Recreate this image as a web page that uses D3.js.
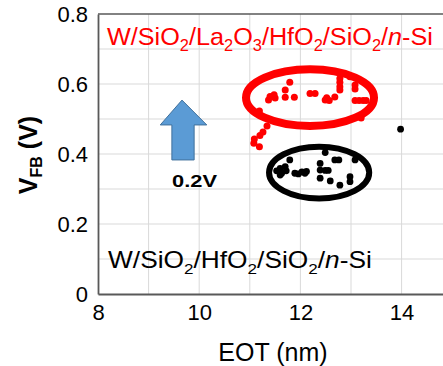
<!DOCTYPE html>
<html><head><meta charset="utf-8">
<script src="https://cdn.jsdelivr.net/npm/d3@7"></script>
<style>html,body{margin:0;padding:0;background:#fff}svg{display:block;font-family:Arial,"Liberation Sans",sans-serif}</style>
</head><body><svg id="c" width="443" height="366"></svg>
<script>
const xTicks = [8, 10, 12, 14];
const yTicks = [0, 0.2, 0.4, 0.6, 0.8];
const yTickLabels = ["0", "0.2", "0.4", "0.6", "0.8"];
const redEOT = [11.19,11.34,11.26,11.20,11.09,11.08,11.19,11.37,11.40,11.48,11.50,11.70,11.79,11.70,11.88,12.19,12.29,12.49,12.52,12.57,12.68,12.78,12.78,12.78,12.78,12.98,13.08,13.08,13.08,13.16,13.24,13.30,13.20];
const redVFB = [0.523,0.480,0.463,0.453,0.443,0.431,0.421,0.554,0.564,0.569,0.560,0.583,0.605,0.562,0.562,0.573,0.573,0.554,0.561,0.553,0.563,0.616,0.605,0.592,0.583,0.621,0.597,0.586,0.553,0.553,0.553,0.553,0.503];
const blackEOT = [11.53,11.60,11.63,11.60,11.70,11.72,11.79,11.89,11.96,12.03,12.09,12.12,12.39,12.39,12.39,12.49,12.49,12.55,12.59,12.68,12.76,12.78,12.98,12.98,13.08,13.98];
const blackVFB = [0.352,0.359,0.345,0.340,0.364,0.352,0.383,0.345,0.343,0.349,0.345,0.350,0.373,0.354,0.331,0.404,0.353,0.353,0.323,0.383,0.383,0.311,0.335,0.321,0.383,0.471];
// ellipses: [cx, cy, rx, ry] in data units
const redEllipse = [12.19, 0.561, 1.265, 0.081];
const blackEllipse = [12.37, 0.347, 0.99, 0.074];
// arrow (data units)
const arrowX = [9.23, 9.46, 9.66, 9.90, 10.15];
const arrowY = [0.383, 0.483, 0.554];

const svg = d3.select("#c");
const x = d3.scaleLinear().domain([8, 15]).range([98, 452.2]);
const y = d3.scaleLinear().domain([0, 0.8]).range([294, 14]);

// grid
const g = svg.append("g");
g.selectAll(".vg").data(d3.range(9, 16)).enter().append("line")
  .attr("x1", d => x(d)).attr("x2", d => x(d)).attr("y1", y(0)).attr("y2", y(0.8))
  .attr("stroke", "#d9d9d9").attr("stroke-width", 1);
g.selectAll(".hg").data(d3.range(1, 8).map(i => i / 10)).enter().append("line")
  .attr("x1", x(8)).attr("x2", 443).attr("y1", d => y(d)).attr("y2", d => y(d))
  .attr("stroke", "#d9d9d9").attr("stroke-width", 1);
svg.append("line").attr("x1", x(8)).attr("x2", 443).attr("y1", y(0.8)).attr("y2", y(0.8)).attr("stroke", "#595959").attr("stroke-width", 1.5);

// axes
const xAxis = svg.append("g").attr("transform", `translate(0,${y(0)})`)
  .call(d3.axisBottom(x).tickValues(xTicks).tickSize(0).tickPadding(10).tickFormat(d3.format("d")));
xAxis.select(".domain").attr("stroke", "#595959").attr("stroke-width", 1.8);
xAxis.selectAll("text").attr("font-size", 22).attr("fill", "#000").attr("font-family", "Arial, Liberation Sans, sans-serif");
const yAxis = svg.append("g").attr("transform", `translate(${x(8)},0)`)
  .call(d3.axisLeft(y).tickValues(yTicks).tickSize(0).tickPadding(10).tickFormat((d, i) => yTickLabels[i]));
yAxis.select(".domain").attr("stroke", "#595959").attr("stroke-width", 1.8);
yAxis.selectAll("text").attr("font-size", 22).attr("fill", "#000").attr("font-family", "Arial, Liberation Sans, sans-serif");

// axis titles
svg.append("text").attr("x", 273).attr("y", 361).attr("text-anchor", "middle")
  .attr("font-size", 25).attr("fill", "#000").text("EOT (nm)");
const yt = svg.append("text").attr("transform", "translate(37,155) rotate(-90)")
  .attr("text-anchor", "middle").attr("font-size", 25).attr("font-weight", "bold").attr("fill", "#000");
yt.append("tspan").text("V");
yt.append("tspan").attr("font-size", 16).attr("dy", 5).text("FB");
yt.append("tspan").attr("dy", -5).text(" (V)");

// ellipses
function ell(e, color, w) {
  svg.append("ellipse").attr("cx", x(e[0])).attr("cy", y(e[1]))
    .attr("rx", x(e[0] + e[2]) - x(e[0])).attr("ry", y(e[1]) - y(e[1] + e[3]))
    .attr("fill", "none").attr("stroke", color).attr("stroke-width", w);
}
ell(redEllipse, "#ff0000", 8);
ell(blackEllipse, "#000", 6);

// points
svg.append("g").selectAll("circle").data(redEOT).enter().append("circle")
  .attr("cx", d => x(d)).attr("cy", (d, i) => y(redVFB[i])).attr("r", 3.5).attr("fill", "#ff0000");
svg.append("g").selectAll("circle").data(blackEOT).enter().append("circle")
  .attr("cx", d => x(d)).attr("cy", (d, i) => y(blackVFB[i])).attr("r", 3.4).attr("fill", "#000");

// arrow
const ap = [[arrowX[1], arrowY[0]], [arrowX[1], arrowY[1]], [arrowX[0], arrowY[1]], [arrowX[2], arrowY[2]],
  [arrowX[4], arrowY[1]], [arrowX[3], arrowY[1]], [arrowX[3], arrowY[0]]];
svg.append("path").attr("d", d3.line().x(d => x(d[0])).y(d => y(d[1]))(ap) + "Z")
  .attr("fill", "#5b9bd5").attr("stroke", "#41719c").attr("stroke-width", 1);

// stretched text helper: place text starting at (xx,yy), scale horizontally to width w
function fitText(build, xx, yy, w) {
  const gg = svg.append("g");
  const t = gg.append("text").attr("x", 0).attr("y", 0);
  build(t);
  const bw = t.node().getComputedTextLength();
  gg.attr("transform", `translate(${xx},${yy}) scale(${w / bw},1)`);
}
function label(parts, size, color) {
  return t => {
    t.attr("font-size", size).attr("fill", color);
    parts.forEach(p => {
      const s = t.append("tspan").text(p[0]);
      if (p[1] === "sub") s.attr("font-size", size * 0.65).attr("dy", size * 0.25);
      else if (p[1] === "back") s.attr("dy", -size * 0.25);
      if (p[2] === "it") s.attr("font-style", "italic");
    });
  };
}
fitText(t => t.attr("font-size", 17).attr("font-weight", "bold").attr("fill", "#000").text("0.2V"), 172, 187, 45);
fitText(label([["W/SiO"], ["2", "sub"], ["/La", "back"], ["2", "sub"], ["O", "back"], ["3", "sub"], ["/HfO", "back"], ["2", "sub"], ["/SiO", "back"], ["2", "sub"], ["/", "back"], ["n", "", "it"], ["-Si"]], 24, "#ff0000"), 107, 45, 326);
fitText(label([["W/SiO"], ["2", "sub"], ["/HfO", "back"], ["2", "sub"], ["/SiO", "back"], ["2", "sub"], ["/", "back"], ["n", "", "it"], ["-Si"]], 23, "#000"), 108, 268, 264);
</script></body></html>
